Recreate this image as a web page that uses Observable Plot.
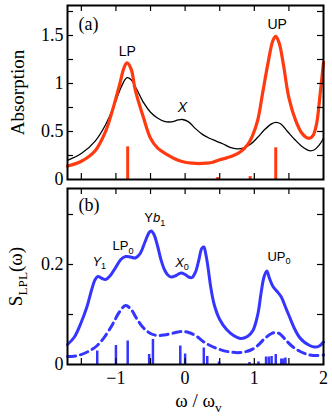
<!DOCTYPE html>
<html><head><meta charset="utf-8">
<script src="https://cdn.jsdelivr.net/npm/d3@7"></script>
<script src="https://cdn.jsdelivr.net/npm/@observablehq/plot@0.6"></script>
<style>body{margin:0;background:#fff} #chart svg{display:block}</style>
</head><body><div id="chart"></div>
<script>
// ---- Panel (a): absorption spectra ----
const blackOmega = [-1.7,-1.5,-1.3,-1.15,-1.0,-0.92,-0.84,-0.78,-0.7,-0.6,-0.5,-0.4,-0.3,-0.2,-0.1,-0.04,0.05,0.15,0.25,0.35,0.45,0.55,0.65,0.75,0.85,0.95,1.05,1.15,1.25,1.31,1.38,1.48,1.58,1.68,1.8,1.87,1.94,2.0];
const blackAbs   = [0.20,0.27,0.40,0.57,0.82,0.97,1.06,1.04,0.94,0.80,0.70,0.64,0.605,0.60,0.62,0.625,0.60,0.53,0.47,0.43,0.40,0.37,0.335,0.32,0.33,0.37,0.44,0.52,0.58,0.595,0.58,0.50,0.42,0.35,0.30,0.31,0.36,0.43];
const redOmega = [-1.7,-1.5,-1.3,-1.15,-1.05,-0.95,-0.88,-0.84,-0.78,-0.72,-0.6,-0.5,-0.4,-0.26,-0.1,0.0,0.1,0.2,0.3,0.4,0.5,0.6,0.7,0.8,0.9,0.97,1.05,1.12,1.2,1.27,1.31,1.36,1.42,1.5,1.6,1.68,1.75,1.8,1.85,1.9,1.95,2.0];
const redAbs   = [0.14,0.19,0.30,0.50,0.72,0.98,1.17,1.215,1.15,0.93,0.64,0.43,0.33,0.26,0.20,0.18,0.17,0.165,0.17,0.18,0.205,0.225,0.25,0.29,0.36,0.45,0.62,0.9,1.22,1.45,1.49,1.42,1.2,0.85,0.61,0.49,0.44,0.43,0.46,0.58,0.88,1.22];
const redStickOmega = [-0.83,0.47,0.94,1.31];
const redStickAbs   = [0.34,0.02,0.03,0.33];
const absTicks = [0,0.5,1,1.5];
const absMinorTicks = [0.25,0.5,0.75,1,1.25,1.5,1.75];
const labelsA = ["LP","UP","*X*"];
const labelsAOmega = [-0.835,1.33,-0.04];
const labelsAValue = [1.29,1.57,0.70];

// ---- Panel (b): S_LPL spectra ----
const solidOmega = [-1.7,-1.6,-1.5,-1.42,-1.35,-1.3,-1.26,-1.2,-1.15,-1.08,-1.0,-0.93,-0.86,-0.79,-0.72,-0.65,-0.58,-0.52,-0.49,-0.45,-0.4,-0.35,-0.3,-0.25,-0.2,-0.13,-0.06,0.0,0.05,0.1,0.15,0.2,0.24,0.27,0.3,0.33,0.37,0.42,0.5,0.6,0.7,0.8,0.9,0.98,1.05,1.1,1.14,1.18,1.22,1.27,1.33,1.39,1.45,1.51,1.58,1.65,1.72,1.8,1.87,1.94,2.0];
const solidS     = [0.040,0.055,0.085,0.115,0.150,0.170,0.176,0.172,0.170,0.178,0.195,0.210,0.216,0.215,0.213,0.222,0.245,0.264,0.267,0.260,0.238,0.210,0.190,0.179,0.175,0.178,0.183,0.180,0.175,0.174,0.185,0.210,0.232,0.235,0.220,0.195,0.155,0.120,0.090,0.070,0.058,0.052,0.056,0.068,0.100,0.145,0.175,0.187,0.172,0.156,0.146,0.135,0.115,0.095,0.072,0.055,0.045,0.038,0.035,0.037,0.045];
const dashOmega = [-1.7,-1.55,-1.4,-1.27,-1.15,-1.05,-0.95,-0.86,-0.78,-0.7,-0.6,-0.5,-0.4,-0.3,-0.2,-0.1,-0.03,0.05,0.16,0.26,0.36,0.5,0.65,0.8,0.95,1.05,1.15,1.25,1.31,1.38,1.46,1.55,1.65,1.75,1.85,2.0];
const dashS     = [0.016,0.018,0.026,0.038,0.058,0.080,0.105,0.118,0.110,0.092,0.073,0.062,0.058,0.059,0.062,0.065,0.066,0.064,0.057,0.046,0.038,0.030,0.025,0.024,0.029,0.038,0.052,0.062,0.064,0.060,0.048,0.036,0.027,0.021,0.018,0.019];
const blueStickOmega = [-1.27,-1.0,-0.83,-0.52,-0.465,-0.07,0.0,0.27,0.32,0.49,0.93,1.06,1.17,1.21,1.25,1.31,1.39,1.42,1.45];
const blueStickS     = [0.027,0.038,0.047,0.020,0.050,0.037,0.021,0.033,0.016,0.005,0.004,0.005,0.015,0.015,0.016,0.020,0.011,0.011,0.013];
const sTicks = [0,0.2];
const sMinorTicks = [0.1,0.2,0.3];
const labelsB = ["*Y*_1","LP_0","Y*b*_1","*X*_0","UP_0"];
const labelsBOmega = [-1.34,-1.05,-0.59,-0.144,1.19];
const labelsBValue = [0.198,0.229,0.285,0.196,0.208];

const omegaTicks = [-1.5,-1,-0.5,0,0.5,1,1.5];
const omegaLabelTicks = [-1,0,1,2];

const zip = (xs, ys) => xs.map((x, i) => ({x, y: ys[i]}));
const zipL = (ts, xs, ys) => ts.map((t, i) => ({t, x: xs[i], y: ys[i]}));

const W = 332, ML = 67, MR = 9;
const FW = W - ML - MR;
const RED = "#ff3a10", BLUE = "#3535ff";
const fmt = d => d < 0 ? "\u2212" + (-d) : String(d);
const serif = "'Liberation Serif', 'DejaVu Serif', serif";
const sans = "'Liberation Sans', Arial, sans-serif";

function frameTicks(xt, yt, FH) {
  const tk = {stroke: "black", strokeWidth: 1.2};
  return [
    Plot.ruleX(xt, {x: d => d, insetTop: FH - 6, ...tk}),
    Plot.ruleX(xt, {x: d => d, insetBottom: FH - 6, ...tk}),
    Plot.ruleY(yt, {y: d => d, insetRight: FW - 6, ...tk}),
    Plot.ruleY(yt, {y: d => d, insetLeft: FW - 6, ...tk})
  ];
}

// Panel (a)
const HA = 184, MTA = 5, MBA = 5;
const plotA = Plot.plot({
  width: W, height: HA, marginLeft: ML, marginRight: MR, marginTop: MTA, marginBottom: MBA,
  style: {fontFamily: serif, fontSize: "18px", color: "black", background: "white", overflow: "visible"},
  x: {domain: [-1.7, 2], axis: null},
  y: {domain: [0, 1.8125]},
  marks: [
    Plot.ruleX(zip(redStickOmega, redStickAbs), {x: "x", y1: 0, y2: "y", stroke: RED, strokeWidth: 3}),
    Plot.line(zip(blackOmega, blackAbs), {x: "x", y: "y", stroke: "black", strokeWidth: 1.3, curve: "catmull-rom"}),
    Plot.line(zip(redOmega, redAbs), {x: "x", y: "y", stroke: RED, strokeWidth: 3.2, curve: "catmull-rom"}),
    ...frameTicks(omegaTicks, absMinorTicks, HA - MTA - MBA),
    Plot.axisY(absTicks, {tickSize: 0, tickPadding: 4, tickFormat: fmt, fontSize: 18, label: null}),
    Plot.text(zipL(labelsA, labelsAOmega, labelsAValue), {x: "x", y: "y", text: "t", fontFamily: sans, fontSize: 14, lineAnchor: "bottom", textAnchor: "middle"}),
    Plot.text(["(a)"], {x: -1.54, y: 1.56, text: d => d, fontSize: 18, lineAnchor: "bottom", textAnchor: "start"}),
    Plot.text(["Absorption"], {frameAnchor: "left", dx: -50, rotate: -90, text: d => d, fontSize: 19, lineAnchor: "middle", textAnchor: "middle"}),
    Plot.frame({stroke: "black", strokeWidth: 2})
  ]
});

// Panel (b)
const HB = 234, MTB = 4, MBB = 54;
const plotB = Plot.plot({
  width: W, height: HB, marginLeft: ML, marginRight: MR, marginTop: MTB, marginBottom: MBB,
  style: {fontFamily: serif, fontSize: "18px", color: "black", background: "white", overflow: "visible"},
  x: {domain: [-1.7, 2]},
  y: {domain: [0, 0.352]},
  marks: [
    Plot.ruleX(zip(blueStickOmega, blueStickS), {x: "x", y1: 0, y2: "y", stroke: BLUE, strokeWidth: 2.5}),
    Plot.line(zip(dashOmega, dashS), {x: "x", y: "y", stroke: BLUE, strokeWidth: 3, strokeDasharray: "8,5", curve: "catmull-rom"}),
    Plot.line(zip(solidOmega, solidS), {x: "x", y: "y", stroke: BLUE, strokeWidth: 3, curve: "catmull-rom"}),
    ...frameTicks(omegaTicks, sMinorTicks, HB - MTB - MBB),
    Plot.axisY(sTicks, {tickSize: 0, tickPadding: 4, tickFormat: fmt, fontSize: 18, label: null}),
    Plot.axisX(omegaLabelTicks, {tickSize: 0, tickPadding: 7, tickFormat: fmt, fontSize: 18, label: null}),
    Plot.text(zipL(labelsB, labelsBOmega, labelsBValue), {x: "x", y: "y", text: "t", fontFamily: sans, fontSize: 13, lineAnchor: "bottom", textAnchor: "start"}),
    Plot.text(["(b)"], {x: -1.54, y: 0.308, text: d => d, fontSize: 18, lineAnchor: "bottom", textAnchor: "start"}),
    Plot.text(["S_{LPL}(\u03c9)"], {frameAnchor: "left", dx: -52, rotate: -90, text: d => d, fontSize: 19, lineAnchor: "middle", textAnchor: "middle"}),
    Plot.text(["\u03c9 / \u03c9_v"], {frameAnchor: "bottom", dx: 3, dy: 36, text: d => d, fontSize: 19, lineAnchor: "middle", textAnchor: "middle"}),
    Plot.frame({stroke: "black", strokeWidth: 2})
  ]
});

const host = document.getElementById("chart");
host.appendChild(plotA);
host.appendChild(plotB);

function richText(svg) {
  svg.querySelectorAll("text").forEach(t => {
    const s = t.textContent;
    if (!/[_*]/.test(s)) return;
    const fs = parseFloat(getComputedStyle(t).fontSize) || 14;
    const parts = [];
    let italic = false, buf = "", i = 0;
    while (i < s.length) {
      const c = s[i];
      if (c === "*") { if (buf) parts.push({t: buf, italic, sub: false}); buf = ""; italic = !italic; i++; }
      else if (c === "_") {
        if (buf) parts.push({t: buf, italic, sub: false}); buf = "";
        let sub;
        if (s[i + 1] === "{") { const j = s.indexOf("}", i); sub = s.slice(i + 2, j); i = j + 1; }
        else { sub = s[i + 1]; i += 2; }
        parts.push({t: sub, italic: false, sub: true});
      } else { buf += c; i++; }
    }
    if (buf) parts.push({t: buf, italic, sub: false});
    while (t.firstChild) t.removeChild(t.firstChild);
    let shifted = false;
    for (const p of parts) {
      const ts = document.createElementNS("http://www.w3.org/2000/svg", "tspan");
      ts.textContent = p.t;
      if (p.italic) ts.setAttribute("font-style", "italic");
      if (p.sub) {
        ts.setAttribute("font-size", (fs * 0.7).toFixed(1));
        if (!shifted) { ts.setAttribute("dy", (fs * 0.3).toFixed(1)); shifted = true; }
      } else if (shifted) { ts.setAttribute("dy", (-fs * 0.3).toFixed(1)); shifted = false; }
      t.appendChild(ts);
    }
  });
}
richText(plotA);
richText(plotB);
</script>
</body></html>
